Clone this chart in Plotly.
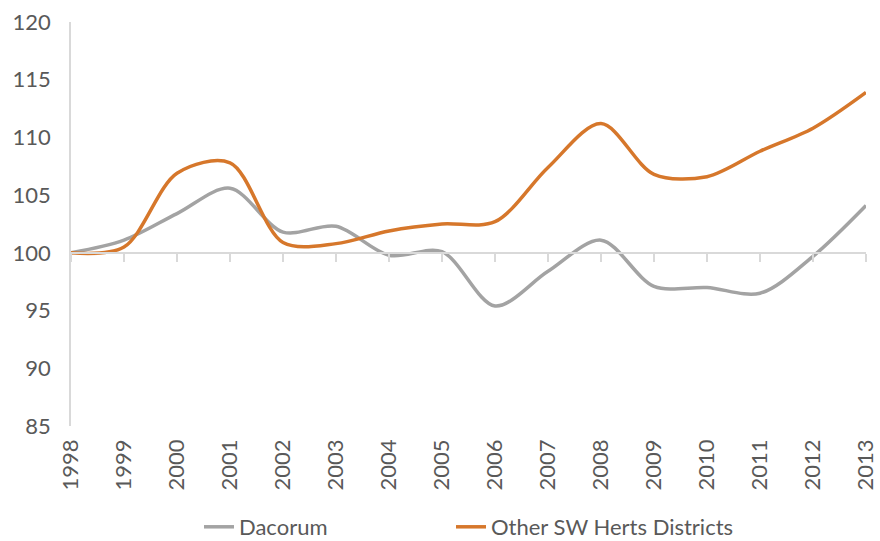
import plotly.graph_objects as go

# Index (1998 = 100)
years = [str(y) for y in range(1998, 2014)]
dacorum = [100.0, 101.1, 103.4, 105.6, 101.8, 102.3, 99.8, 100.1,
           95.4, 98.4, 101.1, 97.1, 97.0, 96.5, 99.7, 104.1]
other_sw_herts = [100.0, 100.5, 106.9, 107.8, 100.9, 100.8, 101.9, 102.5,
                  102.7, 107.4, 111.2, 106.8, 106.6, 108.8, 110.8, 113.9]
y_ticks = [85, 90, 95, 100, 105, 110, 115, 120]

GRAY = "#a3a3a3"
ORANGE = "#d6772b"
AXIS = "#d9d9d9"
TEXT = "#595959"
FONT = "Lato, 'Open Sans', sans-serif"

fig = go.Figure()
fig.add_trace(go.Scatter(
    x=years, y=dacorum, name="Dacorum", mode="lines", legend="legend",
    line=dict(color=GRAY, width=3.5, shape="spline", smoothing=0.9),
))
fig.add_trace(go.Scatter(
    x=years, y=other_sw_herts, name="Other SW Herts Districts", mode="lines",
    legend="legend2",
    line=dict(color=ORANGE, width=3.5, shape="spline", smoothing=0.9),
))

y_min, y_max = 85, 120
base = 100

legend_style = dict(orientation="h", xanchor="left", y=-0.25,
                    yanchor="middle", font=dict(size=22, color=TEXT),
                    itemwidth=30, bgcolor="rgba(0,0,0,0)", borderwidth=0)

fig.update_layout(
    width=880, height=541,
    margin=dict(l=71, r=14, t=22, b=115, autoexpand=False),
    paper_bgcolor="white", plot_bgcolor="white",
    font=dict(family=FONT, color=TEXT, size=20),
    showlegend=True,
    legend=dict(x=0.161, **legend_style),
    legend2=dict(x=0.478, **legend_style),
    xaxis=dict(
        type="category", range=[0, len(years) - 1], automargin=False,
        showgrid=False, zeroline=False, showline=False,
        ticks="", tickangle=-90, tickfont=dict(size=22, color=TEXT),
        ticklabelstandoff=8,
    ),
    # axis line drawn at the base value of the index, with tick marks below it
    xaxis2=dict(
        type="category", range=[0, len(years) - 1], overlaying="x",
        matches="x", anchor="free", side="bottom",
        position=(base - y_min) / (y_max - y_min),
        showline=True, linecolor=AXIS, linewidth=1.5,
        ticks="outside", ticklen=8, tickcolor=AXIS, tickwidth=1.5,
        showticklabels=False, showgrid=False, zeroline=False,
    ),
    yaxis=dict(
        range=[y_min, y_max], tickvals=y_ticks, showgrid=False,
        automargin=False,
        zeroline=False, showline=True, linecolor=AXIS, linewidth=1.5,
        ticks="", tickfont=dict(size=22, color=TEXT), ticklabelstandoff=14,
    ),
)

# invisible trace that binds the overlay axis
fig.add_trace(go.Scatter(x=years, y=[None] * len(years), xaxis="x2",
                         showlegend=False, hoverinfo="skip"))

fig.write_html("out.html")
